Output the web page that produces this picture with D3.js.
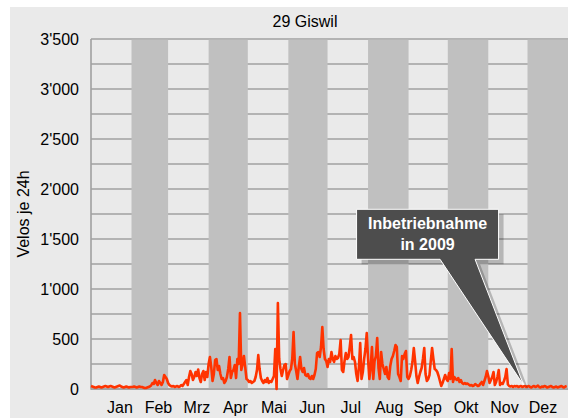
<!DOCTYPE html>
<html>
<head>
<meta charset="utf-8">
<script src="https://cdn.jsdelivr.net/npm/d3@7"></script>
<style>
html,body{margin:0;padding:0;background:#fff;}
svg{display:block;font-family:"Liberation Sans",Arial,sans-serif;}
</style>
</head>
<body>
<svg id="chart" width="568" height="418"></svg>
<script>
// ---- data (daily bicycle counts 2009, station 29 Giswil) ----
const title = "29 Giswil";
const yLabel = "Velos je 24h";
const monthNames = ["Jan","Feb","Mrz","Apr","Mai","Jun","Jul","Aug","Sep","Okt","Nov","Dez"];
const yTicks = [0,500,1000,1500,2000,2500,3000,3500];
const calloutLines = ["Inbetriebnahme","in 2009"];

const jan = [30,25,20,15,15,20,25,20,15,20,25,30,25,20,25,30,25,20,15,20,25,30,35,25,20,15,20,25,20,15,20];
const feb = [20,20,25,20,15,20,25,20,20,15,10,10,15,20,25,35,60,50,90,60,40,80,60,40,70,140,120,100];
const mrz = [60,40,30,25,30,20,25,30,20,25,40,30,50,70,90,40,120,180,150,90,120,170,130,195,110,70,150,180,90,170,120];
const apr = [250,320,220,80,150,290,300,190,230,150,100,110,60,80,120,200,320,110,170,190,240,110,300,250,760,190,250,330,220,100];
const mai = [90,70,80,60,70,80,120,190,340,200,110,80,60,90,70,110,60,80,70,100,130,400,0,860,300,200,130,190,240,250,100];
const jun = [140,180,200,300,570,250,180,100,220,320,200,170,210,140,130,150,110,100,130,100,140,200,360,370,320,420,620,400,300,280];
const jul = [220,300,270,370,300,270,330,300,310,350,490,190,170,280,360,300,320,420,540,300,320,270,150,80,220,460,100,170,300,400,560];
const aug = [300,100,220,420,100,280,330,510,210,100,370,250,200,150,220,120,100,230,300,330,380,440,420,150,120,80,330,300,350,380,120];
const sep = [100,130,190,270,410,280,130,60,120,170,210,300,410,150,80,100,140,280,410,300,200,190,170,130,80,30,60,100,140,100];
const okt = [80,160,100,400,70,120,100,90,110,70,90,60,50,60,50,55,45,35,40,30,35,50,40,30,35,55,70,40,80,120,180];
const nov = [130,60,90,120,170,40,70,120,190,40,60,50,80,120,200,45,30,25,30,20,30,25,30,20,25,30,20,25,30,20];
const dez = [25,30,20,15,25,30,20,25,35,20,15,25,20,30,25,15,20,25,30,20,15,20,25,15,20,25,30,20,15,25,30];

const months = [jan,feb,mrz,apr,mai,jun,jul,aug,sep,okt,nov,dez];
const series = [];
months.forEach((arr,m)=>arr.forEach((v,i)=>series.push({date:new Date(2009,m,i+1), value:v})));

// ---- layout ----
const svg = d3.select("#chart");
const L = 91, R = 568, T = 39, B = 389;
const x = d3.scaleTime().domain([new Date(2009,0,1), new Date(2010,0,1)]).range([L,R]);
const y = d3.scaleLinear().domain([0,3500]).range([B,T]);

const locale = d3.formatLocale({decimal:".", thousands:"'", grouping:[3], currency:["",""]});
const fmt = locale.format(",d");

svg.append("rect").attr("x",10).attr("y",7).attr("width",558).attr("height",411).attr("fill","#eaeaea");

// gridlines every 250
svg.append("g").selectAll("line").data(d3.range(0,3501,250)).join("line")
  .attr("x1",L).attr("x2",R).attr("y1",d=>y(d)).attr("y2",d=>y(d))
  .attr("stroke","#a0a0a0").attr("stroke-width",1.6);

// alternating month bands
svg.append("g").selectAll("rect").data(d3.range(1,12,2)).join("rect")
  .attr("x",m=>x(new Date(2009,m,1)))
  .attr("width",m=>x(new Date(2009,m+1,1))-x(new Date(2009,m,1)))
  .attr("y",y(3500)+0.8).attr("height",y(0)-y(3500)-0.8)
  .attr("fill","#c0c0c0");

// axis lines
svg.append("line").attr("x1",L).attr("x2",L).attr("y1",T).attr("y2",B+0.8).attr("stroke","#a0a0a0").attr("stroke-width",1.6);
svg.append("line").attr("x1",L).attr("x2",R).attr("y1",B).attr("y2",B).attr("stroke","#a0a0a0").attr("stroke-width",1.6);

// y axis labels
const ya = svg.append("g").attr("transform",`translate(${L},0)`)
  .call(d3.axisLeft(y).tickValues(yTicks).tickFormat(fmt).tickSize(0).tickPadding(12));
ya.select(".domain").remove();
ya.selectAll("text").attr("font-size",16).attr("fill","#000").attr("font-family","Liberation Sans, Arial, sans-serif");

// month labels
const xm = d3.scalePoint().domain(monthNames).range([120,543]);
svg.append("g").selectAll("text").data(monthNames).join("text")
  .attr("x",d=>xm(d)).attr("y",412.5).attr("text-anchor","middle")
  .attr("font-size",16).attr("fill","#000").text(d=>d);

// title & y label
svg.append("text").attr("x",305).attr("y",26.5).attr("text-anchor","middle")
  .attr("font-size",16).attr("fill","#000").text(title);
svg.append("text").attr("transform","translate(29,214) rotate(-90)").attr("text-anchor","middle")
  .attr("font-size",16).attr("fill","#000").text(yLabel);

// series line
const line = d3.line().x(d=>x(d.date)).y(d=>y(d.value));
svg.append("path").datum(series).attr("d",line)
  .attr("fill","none").attr("stroke","#ff3300").attr("stroke-width",2.6)
  .attr("stroke-linejoin","round");

// callout
const tipX = x(new Date(2009,10,28)), tipY = y(40);
const bx0 = tipX-167, bx1 = tipX-25, by0 = y(1797), by1 = y(1297);
const p0 = tipX-83.5, p1 = tipX-48.5;
const cPath = `M${bx0},${by0}H${bx1}V${by1}H${p1}L${tipX},${tipY}L${p0},${by1}H${bx0}Z`;
svg.append("path").attr("d",cPath).attr("transform","translate(5,5)").attr("fill","rgba(0,0,0,0.22)");
svg.append("path").attr("d",cPath).attr("fill","#4d4d4d").attr("stroke","#fff").attr("stroke-width",1);
svg.append("g").selectAll("text").data(calloutLines).join("text")
  .attr("x",(bx0+bx1)/2).attr("y",(d,i)=>by0+19.5+i*21.5).attr("text-anchor","middle")
  .attr("font-size",16).attr("font-weight","bold").attr("fill","#fff").text(d=>d);
</script>
</body>
</html>
